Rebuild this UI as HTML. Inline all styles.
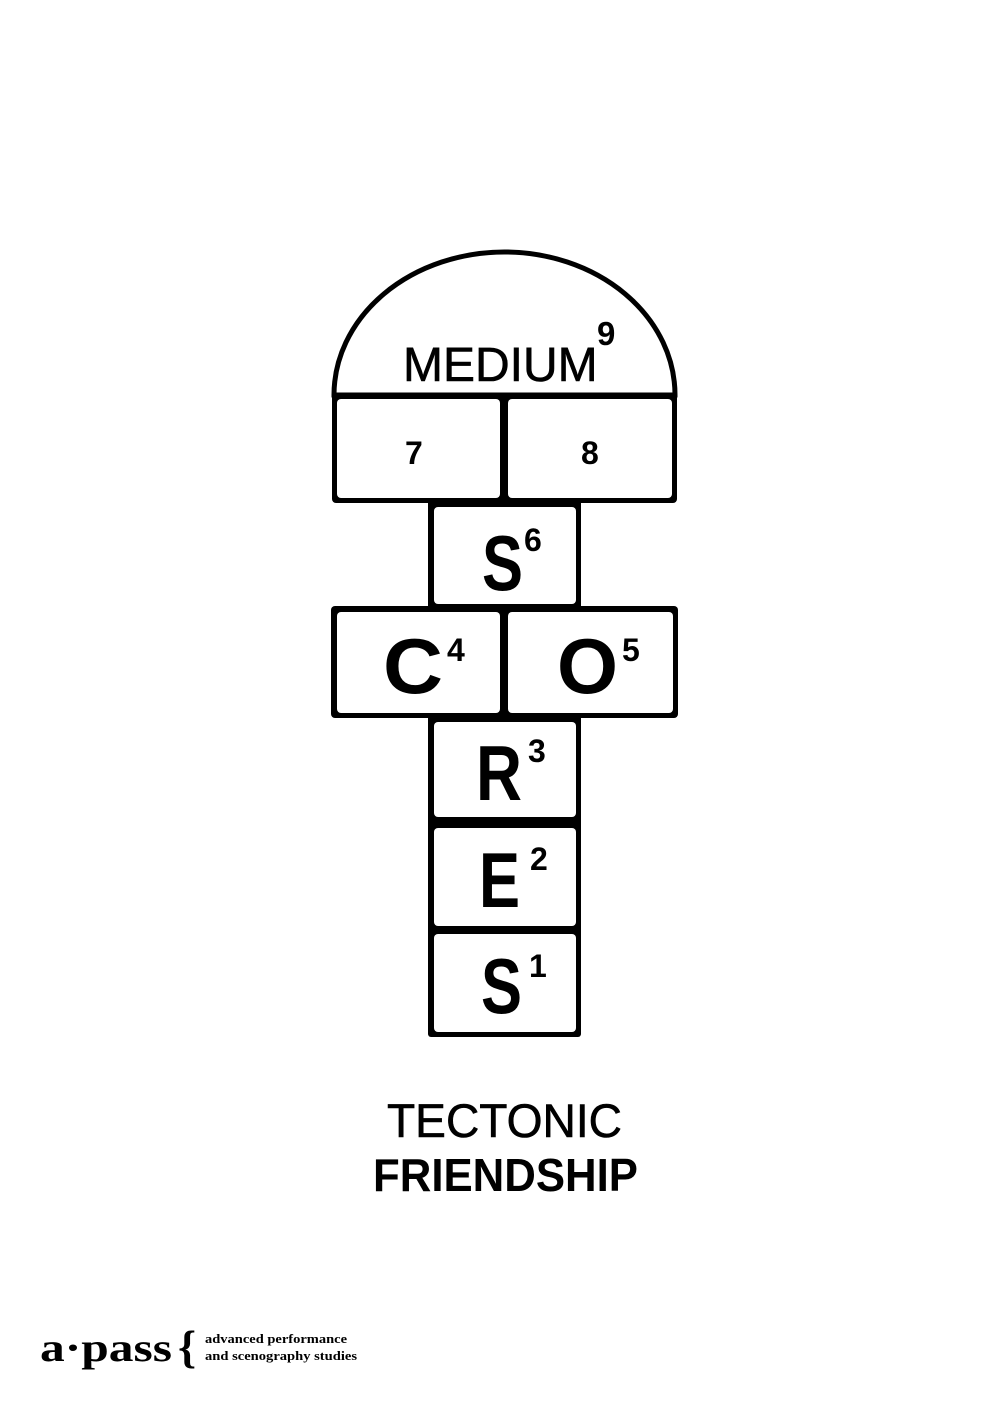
<!DOCTYPE html>
<html><head><meta charset="utf-8"><style>
html,body{margin:0;padding:0;background:#fff;}
svg{display:block}
</style></head><body>
<svg width="1005" height="1418" viewBox="0 0 1005 1418" xmlns="http://www.w3.org/2000/svg" font-family="Liberation Sans, sans-serif">
<rect width="1005" height="1418" fill="#fff"/>
<path d="M334 395 A170.5 143 0 0 1 675 395 Z" fill="#fff" stroke="#000" stroke-width="5"/>
<rect x="332" y="393" width="345" height="110" rx="4" fill="#000"/>
<rect x="428" y="500" width="153" height="110" rx="3" fill="#000"/>
<rect x="331" y="606" width="347" height="112" rx="4" fill="#000"/>
<rect x="428" y="715" width="153" height="322" rx="3" fill="#000"/>
<g fill="#fff">
<rect x="337" y="399" width="163" height="99" rx="4"/>
<rect x="508" y="399" width="164" height="99" rx="4"/>
<rect x="434" y="507" width="142" height="97" rx="4"/>
<rect x="337" y="612" width="163" height="101" rx="4"/>
<rect x="508" y="612" width="165" height="101" rx="4"/>
<rect x="434" y="722" width="142" height="95" rx="4"/>
<rect x="434" y="828" width="142" height="98" rx="4"/>
<rect x="434" y="934" width="142" height="98" rx="4"/>
</g>
<g fill="#000">
<text x="403" y="381" font-size="48" stroke="#000" stroke-width="0.6">MEDIUM</text>
<text x="597" y="345" font-size="33" font-weight="bold">9</text>
<text x="405" y="464" font-size="32" font-weight="bold">7</text>
<text x="581" y="464" font-size="32" font-weight="bold">8</text>
<text x="482" y="590" font-size="78" font-weight="bold" textLength="41" lengthAdjust="spacingAndGlyphs">S</text>
<text x="524" y="551" font-size="32" font-weight="bold">6</text>
<text x="383" y="693" font-size="78" font-weight="bold" textLength="60" lengthAdjust="spacingAndGlyphs">C</text>
<text x="447" y="661" font-size="32" font-weight="bold">4</text>
<text x="557" y="693" font-size="78" font-weight="bold" textLength="61" lengthAdjust="spacingAndGlyphs">O</text>
<text x="622" y="661" font-size="32" font-weight="bold">5</text>
<text x="476" y="800" font-size="78" font-weight="bold" textLength="46" lengthAdjust="spacingAndGlyphs">R</text>
<text x="528" y="762" font-size="32" font-weight="bold">3</text>
<text x="479" y="907" font-size="78" font-weight="bold" textLength="41" lengthAdjust="spacingAndGlyphs">E</text>
<text x="530" y="870" font-size="32" font-weight="bold">2</text>
<text x="481" y="1013" font-size="78" font-weight="bold" textLength="41" lengthAdjust="spacingAndGlyphs">S</text>
<text x="529" y="977" font-size="32" font-weight="bold">1</text>
<text x="387" y="1137" font-size="47" textLength="235" lengthAdjust="spacingAndGlyphs" stroke="#000" stroke-width="0.6">TECTONIC</text>
<text x="373" y="1191" font-size="46" font-weight="bold" textLength="265" lengthAdjust="spacingAndGlyphs">FRIENDSHIP</text>
<text x="40" y="1361" font-size="40" font-family="Liberation Serif, serif" font-weight="bold" textLength="132" lengthAdjust="spacingAndGlyphs">a·pass</text>
<text x="178" y="1362" font-size="46" font-family="Liberation Serif, serif" font-weight="bold">{</text>
<text x="205" y="1343" font-size="13" font-family="Liberation Serif, serif" font-weight="bold" textLength="142" lengthAdjust="spacingAndGlyphs">advanced performance</text>
<text x="205" y="1360" font-size="13" font-family="Liberation Serif, serif" font-weight="bold" textLength="152" lengthAdjust="spacingAndGlyphs">and scenography studies</text>
</g>
</svg>
</body></html>
